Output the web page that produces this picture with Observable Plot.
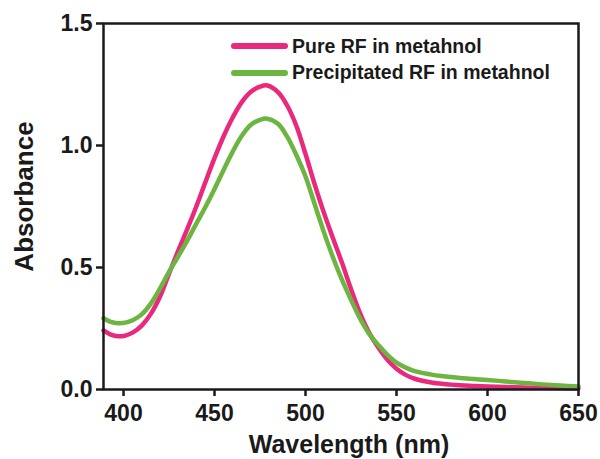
<!DOCTYPE html>
<html>
<head>
<meta charset="utf-8">
<script src="https://cdn.jsdelivr.net/npm/d3@7"></script>
<script src="https://cdn.jsdelivr.net/npm/@observablehq/plot@0.6"></script>
<style>
  html, body { margin: 0; padding: 0; background: #fff; }
  #wrap { position: relative; width: 600px; height: 459px; font-family: "Liberation Sans", Arial, sans-serif; }
  #legend { position: absolute; left: 231px; top: 33px; font-weight: bold; font-size: 19.5px; color: #1a1a1a; }
  .row { display: flex; align-items: center; height: 26.5px; }
  .sw { width: 57px; height: 6px; border-radius: 3px; margin-right: 4px; }
</style>
</head>
<body>
<div id="wrap"></div>
<script>
const wavelengths = [389, 393, 397, 401, 405, 410, 415, 420, 425, 430, 435, 440, 445, 450, 455, 460, 465, 470, 475, 479, 485, 490, 495, 500, 505, 510, 515, 520, 525, 530, 535, 540, 545, 550, 555, 560, 570, 580, 590, 600, 610, 620, 630, 640, 650];
const pureRF = [0.242, 0.225, 0.218, 0.221, 0.233, 0.262, 0.31, 0.38, 0.475, 0.568, 0.657, 0.75, 0.85, 0.948, 1.038, 1.115, 1.178, 1.22, 1.241, 1.246, 1.218, 1.163, 1.08, 0.965, 0.842, 0.727, 0.622, 0.52, 0.412, 0.312, 0.232, 0.172, 0.122, 0.085, 0.06, 0.044, 0.028, 0.02, 0.015, 0.012, 0.01, 0.008, 0.007, 0.006, 0.005];
const precipitatedRF = [0.292, 0.277, 0.272, 0.274, 0.284, 0.308, 0.352, 0.413, 0.482, 0.545, 0.61, 0.68, 0.748, 0.822, 0.9, 0.975, 1.04, 1.085, 1.105, 1.11, 1.088, 1.035, 0.96, 0.873, 0.76, 0.647, 0.543, 0.45, 0.368, 0.29, 0.228, 0.182, 0.142, 0.11, 0.09, 0.075, 0.06, 0.051, 0.044, 0.039, 0.033, 0.027, 0.021, 0.016, 0.012];
const seriesNames = ["Pure RF in metahnol", "Precipitated RF in metahnol"];
const seriesColors = ["#e8297c", "#6cb541"];
const xTicks = [400, 450, 500, 550, 600, 650];
const yTicks = [0.0, 0.5, 1.0, 1.5];
const xLabel = "Wavelength (nm)";
const yLabel = "Absorbance";

const pureData = wavelengths.map((w, i) => ({w, a: pureRF[i]}));
const precData = wavelengths.map((w, i) => ({w, a: precipitatedRF[i]}));

const ink = "#1a1a1a";
const chart = Plot.plot({
  width: 600,
  height: 459,
  marginLeft: 103,
  marginRight: 22,
  marginTop: 23,
  marginBottom: 70,
  style: {fontFamily: "'Liberation Sans', Arial, sans-serif", fontWeight: "bold", color: ink, background: "#fff"},
  x: {domain: [389, 650], ticks: xTicks, label: null},
  y: {domain: [0, 1.5], ticks: yTicks, label: null},
  marks: [
    Plot.line(pureData, {x: "w", y: "a", stroke: seriesColors[0], strokeWidth: 4.5, curve: "catmull-rom"}),
    Plot.line(precData, {x: "w", y: "a", stroke: seriesColors[1], strokeWidth: 4.5, curve: "catmull-rom"}),
    Plot.frame({stroke: ink, strokeWidth: 2.5}),
    Plot.axisX({ticks: xTicks, tickSize: 7, tickPadding: 8, strokeWidth: 2.5, fontSize: 23, label: null, stroke: ink, fill: ink}),
    Plot.axisY({ticks: yTicks, tickSize: 7, tickPadding: 4, strokeWidth: 2.5, fontSize: 23, tickFormat: d3.format(".1f"), label: null, stroke: ink, fill: ink}),
    Plot.text([yLabel], {frameAnchor: "left", textAnchor: "middle", rotate: -90, dx: -79, dy: -10, fontSize: 26, fontWeight: "bold", fill: ink, lineAnchor: "middle"}),
    Plot.text([xLabel], {frameAnchor: "bottom", textAnchor: "middle", dx: 8, dy: 55, fontSize: 25, fontWeight: "bold", fill: ink, lineAnchor: "middle"})
  ]
});

const wrap = document.getElementById("wrap");
wrap.appendChild(chart);
const legend = document.createElement("div");
legend.id = "legend";
seriesNames.forEach((name, i) => {
  const row = document.createElement("div");
  row.className = "row";
  const sw = document.createElement("span");
  sw.className = "sw";
  sw.style.background = seriesColors[i];
  const t = document.createElement("span");
  t.textContent = name;
  row.appendChild(sw);
  row.appendChild(t);
  legend.appendChild(row);
});
wrap.appendChild(legend);
</script>
</body>
</html>
